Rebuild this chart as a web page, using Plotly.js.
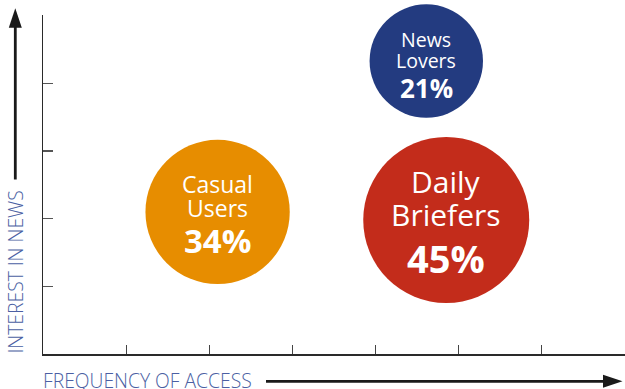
<!DOCTYPE html>
<html>
<head>
<meta charset="utf-8">
<script src="https://cdn.plot.ly/plotly-3.0.1.min.js"></script>
<style>html,body{margin:0;padding:0;background:#fff;}#chart{width:625px;height:389px;}</style>
</head>
<body>
<div id="chart"></div>
<script>
// ---- data ----
var segments = ["Casual Users", "News Lovers", "Daily Briefers"];
var shares = [34, 21, 45];               // percent of audience (bubble area)
var frequency = [2.1, 4.61, 4.85];       // x: frequency of access
var interest = [2.1, 4.33, 1.98];        // y: interest in news
var xTickVals = [1, 2, 3, 4, 5, 6];
var yTickVals = [1, 2, 3, 4, 5];
var xTitle = "FREQUENCY OF ACCESS";
var yTitle = "INTEREST IN NEWS";

// ---- style ----
var colors = ["#E78D00", "#233B80", "#C32C1B"];
var nameSizes = [23, 19.5, 30];
var pctSizes = [33, 26, 38];
var lineGap = [24, 21.5, 33];
var nameOffset = [1.5, -2.5, 0];     // extra px shift of name lines (up +)
var pctOffset = [0, -1, 4];          // extra px shift of percent line (up +)
var labelBlue = "#4B5FA3";
var W = 625, H = 389, L = 43, R = 0, T = 15, B = 35;
var PW = W - L - R, PH = H - T - B;
function px(p) { return (p - L) / PW; }
function py(p) { return (T + PH - p) / PH; }
// plotly area mode: diameter = sqrt(2*v/sizeref); largest bubble ~166px
var sizeref = 2 * 45 / (166 * 166);

var trace = {
  type: "scatter",
  mode: "markers",
  x: frequency,
  y: interest,
  marker: {
    size: shares,
    sizemode: "area",
    sizeref: sizeref,
    color: colors,
    opacity: 1,
    line: { width: 0 }
  },
  cliponaxis: false,
  hoverinfo: "skip"
};

var annotations = [];
segments.forEach(function (name, i) {
  var words = name.split(" ");
  var g = lineGap[i];
  var nameCenter = g * 0.62 + (i === 2 ? 2 : 0) + nameOffset[i];
  annotations.push({
    x: frequency[i], y: interest[i], xref: "x", yref: "y",
    text: words[0], showarrow: false, borderpad: 0,
    font: { family: "Open Sans", size: nameSizes[i], color: "#ffffff" },
    yshift: nameCenter + g / 2
  });
  annotations.push({
    x: frequency[i], y: interest[i], xref: "x", yref: "y",
    text: words[1], showarrow: false, borderpad: 0,
    font: { family: "Open Sans", size: nameSizes[i], color: "#ffffff" },
    yshift: nameCenter - g / 2
  });
  annotations.push({
    x: frequency[i], y: interest[i], xref: "x", yref: "y",
    text: "<b>" + shares[i] + "%</b>", showarrow: false, borderpad: 0,
    font: { family: "Open Sans", size: pctSizes[i], color: "#ffffff", weight: 800 },
    yshift: -g * 1.2 - (i === 2 ? 2 : 0) + pctOffset[i]
  });
});

annotations.push({
  xref: "paper", yref: "paper", x: px(42), y: py(380.5),
  xanchor: "left", yanchor: "middle", borderpad: 0,
  text: xTitle, showarrow: false,
  font: { family: "Open Sans", size: 19.3, color: labelBlue, weight: 300 }
});
annotations.push({
  xref: "paper", yref: "paper", x: px(15), y: py(272.5),
  xanchor: "center", yanchor: "middle", textangle: -90, borderpad: 0,
  text: yTitle, showarrow: false,
  font: { family: "Open Sans", size: 19.3, color: labelBlue, weight: 300 }
});

var shapes = [
  { type: "line", xref: "paper", yref: "paper", x0: px(266), y0: py(381.3), x1: px(606), y1: py(381.3),
    line: { color: "#1a1a1a", width: 2.7 } },
  { type: "path", xref: "paper", yref: "paper",
    path: "M " + px(603) + "," + py(374.8) + " L " + px(622.5) + "," + py(381.3) + " L " + px(603) + "," + py(387.8) + " Z",
    fillcolor: "#1a1a1a", line: { width: 0 } },
  { type: "line", xref: "paper", yref: "paper", x0: px(15.3), y0: py(179.5), x1: px(15.3), y1: py(25),
    line: { color: "#1a1a1a", width: 2.8 } },
  { type: "path", xref: "paper", yref: "paper",
    path: "M " + px(8.8) + "," + py(27.7) + " L " + px(15.3) + "," + py(8.3) + " L " + px(21.8) + "," + py(27.7) + " Z",
    fillcolor: "#1a1a1a", line: { width: 0 } }
];

var layout = {
  width: W, height: H,
  margin: { l: L, r: R, t: T, b: B, pad: 0 },
  paper_bgcolor: "#ffffff", plot_bgcolor: "#ffffff",
  showlegend: false,
  xaxis: {
    range: [0, 7], showgrid: false, zeroline: false,
    showline: true, linecolor: "#2a2a2a", linewidth: 1.5,
    ticks: "inside", tickvals: xTickVals, ticklen: 9, tickwidth: 1.2, tickcolor: "#444",
    showticklabels: false, fixedrange: true
  },
  yaxis: {
    range: [0, 5.01], showgrid: false, zeroline: false,
    showline: true, linecolor: "#2a2a2a", linewidth: 1.5,
    ticks: "inside", tickvals: yTickVals, ticklen: 10, tickwidth: 1.2, tickcolor: "#555",
    showticklabels: false, fixedrange: true
  },
  annotations: annotations,
  shapes: shapes
};

Plotly.newPlot("chart", [trace], layout, { displayModeBar: false, staticPlot: true });
</script>
</body>
</html>
